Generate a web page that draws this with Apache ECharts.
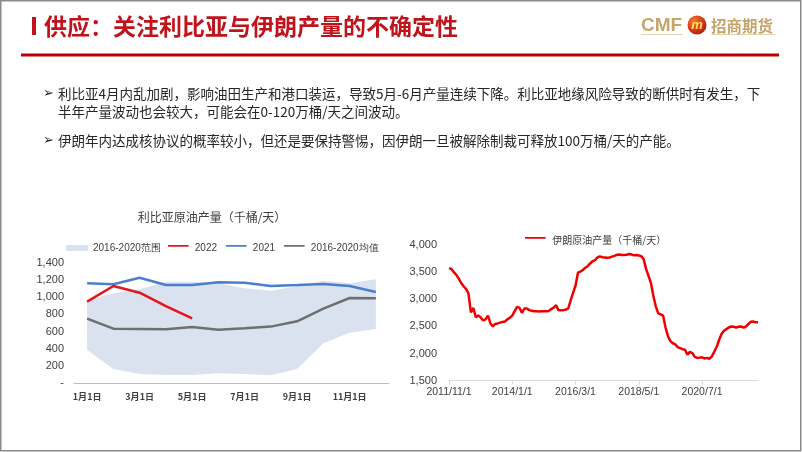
<!DOCTYPE html>
<html>
<head>
<meta charset="utf-8">
<script src="https://cdn.jsdelivr.net/npm/echarts@6/dist/echarts.min.js"></script>
<style>
html,body{margin:0;padding:0;background:#fff;}
#c{width:802px;height:452px;}
</style>
</head>
<body>
<div id="c"></div>
<script>
// ---- Data ----
const pageTitle = '供应：关注利比亚与伊朗产量的不确定性';
const bullet1a = '利比亚4月内乱加剧，影响油田生产和港口装运，导致5月-6月产量连续下降。利比亚地缘风险导致的断供时有发生，下';
const bullet1b = '半年产量波动也会较大，可能会在0-120万桶/天之间波动。';
const bullet2 = '伊朗年内达成核协议的概率较小，但还是要保持警惕，因伊朗一旦被解除制裁可释放100万桶/天的产能。';

const libyaTitle = '利比亚原油产量（千桶/天）';
const libyaMonths = ['1月1日','2月1日','3月1日','4月1日','5月1日','6月1日','7月1日','8月1日','9月1日','10月1日','11月1日','12月1日'];
const libyaRangeMin = [387,166,108,97,97,116,108,93,166,464,588,631];
const libyaRangeMax = [967,1045,1091,1180,1180,1160,1102,1075,1130,1191,1160,1207];
const libya2022 = [948,1130,1052,897,754];
const libya2021 = [1160,1150,1226,1141,1141,1172,1168,1130,1141,1153,1130,1060];
const libyaAvg = [750,634,631,627,654,623,638,658,720,867,990,986];
const libyaYTicks = [0,200,400,600,800,1000,1200,1400];

const iranName = '伊朗原油产量（千桶/天）';
const iranStart = {year: 2011, month: 11};
const iranValues = [
  3571,3560,3500,3450,3380,3300,3240,3190,3110,2760,
  2840,2670,2700,2670,2610,2630,2700,2560,2500,2545,
  2555,2570,2580,2590,2630,2660,2700,2780,2860,2840,
  2750,2830,2830,2800,2790,2780,2780,2775,2780,2780,
  2780,2785,2820,2845,2890,2800,2800,2800,2810,2830,
  2980,3120,3250,3490,3510,3540,3580,3610,3660,3700,
  3720,3770,3790,3775,3770,3765,3770,3785,3800,3820,
  3825,3815,3815,3820,3835,3825,3810,3815,3805,3795,
  3740,3560,3430,3300,3060,2870,2740,2720,2700,2480,
  2320,2230,2190,2170,2120,2100,2080,2070,1980,2030,
  2010,1940,1920,1925,1930,1910,1920,1905,1945,2030,
  2120,2250,2360,2420,2450,2480,2500,2495,2480,2495,
  2500,2480,2495,2540,2585,2590,2575,2575
];
const iranYTicks = [1500,2000,2500,3000,3500,4000];

// ---- Build ----
const iranDates = iranValues.map((v, i) => {
  const t = iranStart.year * 12 + (iranStart.month - 1) + i;
  return Math.floor(t / 12) + '/' + (t % 12 + 1) + '/1';
});
const bandSpan = libyaRangeMax.map((v, i) => v - libyaRangeMin[i]);
const fmt = v => v === 0 ? '-' : v.toLocaleString('en-US');

const CJK = '"Noto Sans CJK SC", sans-serif';
const LAT = '"Liberation Sans", Arial, sans-serif';
const RED_T = '#C0141C';
const GOLD = '#C6A56C';
const LINE_ICON = 'path://M0,0H24V2H0ZM0,0.001H0.001ZM0,7H0.001V7.001H0Z';

const chart = echarts.init(document.getElementById('c'), null, {renderer: 'canvas'});

const option = {
  animation: false,
  backgroundColor: '#ffffff',
  legend: [
    {
      left: 61, top: 238, itemWidth: 22, itemHeight: 6, itemGap: 12,
      textStyle: {fontSize: 10, color: '#404040', fontFamily: LAT},
      data: [{name: '2016-2020范围', icon: 'rect', itemStyle: {color: '#DAE2EF'}}]
    },
    {
      left: 163, top: 238, itemWidth: 23, itemHeight: 6, itemGap: 9,
      textStyle: {fontSize: 10, color: '#404040', fontFamily: LAT},
      data: [
        {name: '2022', icon: LINE_ICON},
        {name: '2021', icon: LINE_ICON},
        {name: '2016-2020均值', icon: LINE_ICON}
      ]
    },
    {
      left: 520, top: 230, itemWidth: 24, itemHeight: 6, itemGap: 3,
      textStyle: {fontSize: 10, color: '#404040', fontFamily: CJK},
      data: [{name: iranName, icon: LINE_ICON}]
    }
  ],
  grid: [
    {left: 74, top: 262.7, width: 315, height: 120.6, containLabel: false},
    {left: 449, top: 245, width: 309, height: 135.7, containLabel: false}
  ],
  xAxis: [
    {
      gridIndex: 0, type: 'category', data: libyaMonths, boundaryGap: true,
      axisLine: {lineStyle: {color: '#BFBFBF', width: 1}},
      axisTick: {show: false},
      axisLabel: {interval: 1, fontSize: 9, fontWeight: 'bold', color: '#404040', margin: 9, fontFamily: CJK}
    },
    {
      gridIndex: 1, type: 'category', data: iranDates, boundaryGap: false,
      axisLine: {lineStyle: {color: '#D9D9D9', width: 1}},
      axisTick: {show: true, interval: 25, length: 4, lineStyle: {color: '#D9D9D9'}},
      axisLabel: {interval: 25, fontSize: 10.5, color: '#404040', margin: 6, fontFamily: LAT}
    }
  ],
  yAxis: [
    {
      gridIndex: 0, type: 'value', min: libyaYTicks[0], max: libyaYTicks[libyaYTicks.length - 1], interval: 200,
      axisLine: {show: false}, axisTick: {show: false}, splitLine: {show: false},
      axisLabel: {formatter: fmt, fontSize: 11, color: '#404040', margin: 10, fontFamily: LAT}
    },
    {
      gridIndex: 1, type: 'value', min: iranYTicks[0], max: iranYTicks[iranYTicks.length - 1], interval: 500,
      axisLine: {show: false}, axisTick: {show: false}, splitLine: {show: false},
      axisLabel: {formatter: fmt, fontSize: 11, color: '#404040', margin: 12, fontFamily: LAT}
    }
  ],
  series: [
    {
      name: 'bandLow', type: 'line', xAxisIndex: 0, yAxisIndex: 0, stack: 'band',
      data: libyaRangeMin, symbol: 'none', lineStyle: {opacity: 0}, areaStyle: {opacity: 0},
      silent: true, z: 1
    },
    {
      name: '2016-2020范围', type: 'line', xAxisIndex: 0, yAxisIndex: 0, stack: 'band',
      data: bandSpan, symbol: 'none', lineStyle: {opacity: 0}, itemStyle: {color: '#DAE2EF'},
      areaStyle: {color: '#DAE2EF', opacity: 1}, z: 1
    },
    {
      name: '2022', type: 'line', xAxisIndex: 0, yAxisIndex: 0, data: libya2022,
      symbol: 'none', lineStyle: {color: '#E8141B', width: 2.5}, itemStyle: {color: '#E8141B'}, z: 4
    },
    {
      name: '2021', type: 'line', xAxisIndex: 0, yAxisIndex: 0, data: libya2021,
      symbol: 'none', lineStyle: {color: '#4A7FCB', width: 2.5}, itemStyle: {color: '#4A7FCB'}, z: 3
    },
    {
      name: '2016-2020均值', type: 'line', xAxisIndex: 0, yAxisIndex: 0, data: libyaAvg,
      symbol: 'none', lineStyle: {color: '#6F6F6F', width: 2.5}, itemStyle: {color: '#6F6F6F'}, z: 3
    },
    {
      name: iranName, type: 'line', xAxisIndex: 1, yAxisIndex: 1, data: iranValues,
      symbol: 'none', lineStyle: {color: '#F00000', width: 2.5}, itemStyle: {color: '#F00000'}, z: 3
    }
  ],
  graphic: [
    {type: 'rect', shape: {x: 0.75, y: 0.75, width: 800, height: 450}, style: {fill: 'none', stroke: '#8A8A8A', lineWidth: 1.5}, z: 100},
    // title
    {type: 'rect', shape: {x: 32, y: 17, width: 4, height: 18}, style: {fill: RED_T}},
    {type: 'text', style: {text: pageTitle, x: 44, y: 26, font: 'bold 23px ' + CJK, fill: RED_T, verticalAlign: 'middle'}},
    {type: 'rect', shape: {x: 21, y: 53.5, width: 758, height: 3}, style: {fill: '#C00000'}},
    // logo
    {type: 'text', style: {text: 'CMF', x: 641, y: 26, font: 'bold 19px ' + LAT, fill: GOLD, verticalAlign: 'middle'}},
    {type: 'rect', shape: {x: 641, y: 34, width: 42, height: 1}, style: {fill: '#E2D2B0'}},
    {type: 'circle', shape: {cx: 697, cy: 25, r: 9.5}, style: {fill: new echarts.graphic.RadialGradient(0.35, 0.3, 0.9, [{offset: 0, color: '#F47A2A'}, {offset: 0.6, color: '#D0301A'}, {offset: 1, color: '#8E1510'}])}},
    {type: 'text', style: {text: 'm', x: 697, y: 25, font: 'italic bold 13px ' + LAT, fill: '#FFE066', align: 'center', verticalAlign: 'middle'}},
    {type: 'text', style: {text: '招商期货', x: 711, y: 26, font: 'bold 15.5px ' + CJK, fill: GOLD, verticalAlign: 'middle'}},
    {type: 'rect', shape: {x: 711, y: 34, width: 64, height: 1}, style: {fill: '#E2D2B0'}},
    // bullets
    {type: 'text', style: {text: '➢', x: 43, y: 94, font: 'bold 13px "DejaVu Sans", sans-serif', fill: '#222', verticalAlign: 'middle'}},
    {type: 'text', style: {text: bullet1a, x: 58, y: 94, font: '13.5px ' + CJK, fill: '#262626', verticalAlign: 'middle'}},
    {type: 'text', style: {text: bullet1b, x: 58, y: 112, font: '13.5px ' + CJK, fill: '#262626', verticalAlign: 'middle'}},
    {type: 'text', style: {text: '➢', x: 43, y: 141, font: 'bold 13px "DejaVu Sans", sans-serif', fill: '#222', verticalAlign: 'middle'}},
    {type: 'text', style: {text: bullet2, x: 58, y: 141, font: '13.5px ' + CJK, fill: '#262626', verticalAlign: 'middle'}},
    // left chart title
    {type: 'text', style: {text: libyaTitle, x: 212, y: 217, font: '12px ' + CJK, fill: '#404040', align: 'center', verticalAlign: 'middle'}}
  ]
};
chart.setOption(option);
</script>
</body>
</html>
